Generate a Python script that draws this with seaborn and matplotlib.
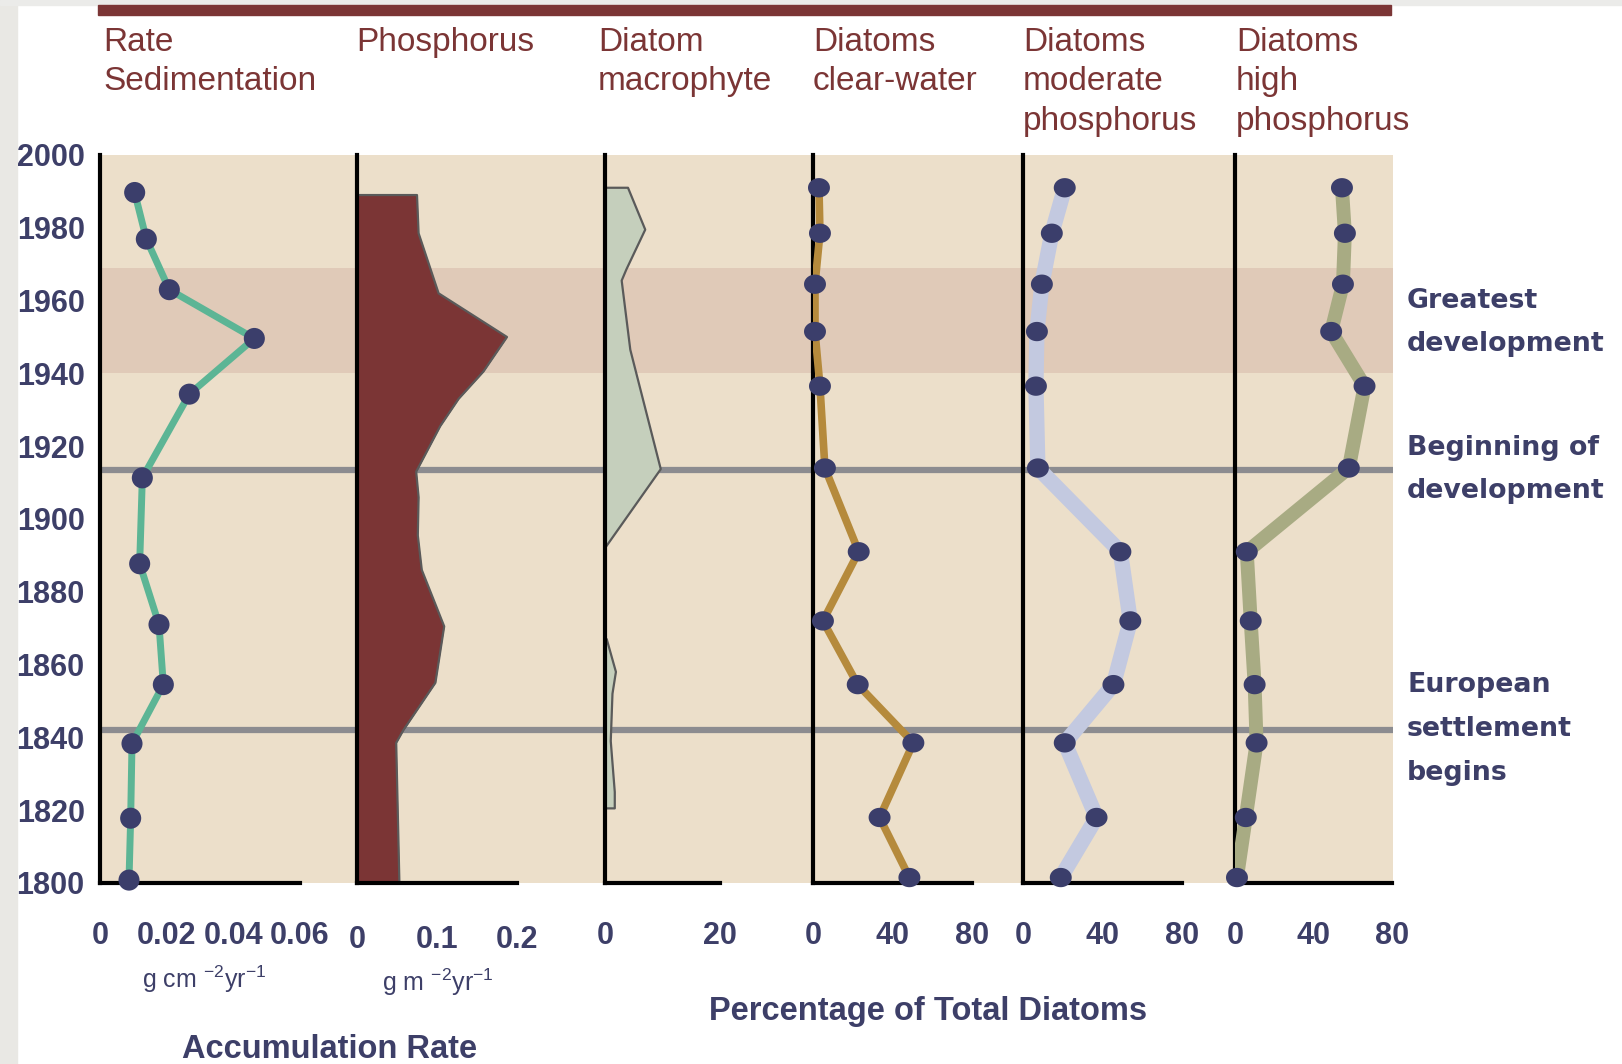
import matplotlib
matplotlib.use("Agg")
import matplotlib.pyplot as plt
from matplotlib.patches import Rectangle
from matplotlib.path import Path
import numpy as np
import seaborn as sns

# ---------------- data ----------------
sed_years = [1989.7, 1976.9, 1963.0, 1949.6, 1934.3, 1911.3,
             1887.7, 1871.0, 1854.5, 1838.3, 1817.8, 1800.8]
sed_rate = [0.0104, 0.0139, 0.0208, 0.0463, 0.0268, 0.0127,
            0.0119, 0.0177, 0.0190, 0.0096, 0.0092, 0.0087]

phos_years = [1989, 1978.5, 1962, 1950, 1940.5, 1933, 1925.5, 1913,
              1906, 1895.5, 1886, 1870.5, 1855, 1842, 1838.5, 1800]
phos_rate = [0.075, 0.077, 0.102, 0.1875, 0.158, 0.127, 0.104, 0.074,
             0.077, 0.076, 0.081, 0.109, 0.098, 0.058, 0.049, 0.053]

macro_upper_years = [1991, 1979.5, 1968.5, 1965.5, 1946.5, 1913.7, 1892]
macro_upper_pct = [4, 7, 3.7, 2.9, 4.4, 9.7, 0]
macro_lower_years = [1867, 1858, 1852, 1839, 1825, 1820.5]
macro_lower_pct = [0.3, 1.9, 1.3, 1.0, 1.7, 1.7]

diatom_years = [1991, 1978.5, 1964.5, 1951.5, 1936.5, 1914,
                1891, 1872, 1854.5, 1838.5, 1818, 1801.5]
clear_water = [3, 3.5, 1, 1, 3.5, 6, 23, 5, 22.5, 50.5, 33.5, 48.5]
moderate_p = [21, 14.5, 9.5, 7, 6.5, 7.5, 49, 54, 45.5, 21, 37, 19]
high_p = [54.5, 56, 55, 49, 66, 58, 6, 8, 10, 11, 5.5, 1]

year_ticks = list(range(1800, 2001, 20))
greatest_dev = (1940, 1969)
beginning_dev = 1913.5
settlement_begins = 1842

sed_ticks, sed_minor, sed_labels = [0, 0.02, 0.04, 0.06], [0.01, 0.03, 0.05], ["0", "0.02", "0.04", "0.06"]
phos_ticks, phos_minor, phos_labels = [0, 0.1, 0.2], [0.05, 0.15], ["0", "0.1", "0.2"]
macro_ticks, macro_minor, macro_labels = [0, 20], [10], ["0", "20"]
pct_ticks, pct_minor, pct_labels = [0, 40, 80], [20, 60], ["0", "40", "80"]

titles = [["Rate", "Sedimentation"], ["Phosphorus"], ["Diatom", "macrophyte"],
          ["Diatoms", "clear-water"], ["Diatoms", "moderate", "phosphorus"],
          ["Diatoms", "high", "phosphorus"]]
events = [["Greatest", "development"], ["Beginning of", "development"],
          ["European", "settlement", "begins"]]

# ---------------- style ----------------
sns.set_theme(style="white")
SANS = ["Liberation Sans", "DejaVu Sans"]
plt.rcParams["font.family"] = SANS
plt.rcParams["mathtext.fontset"] = "custom"
plt.rcParams["mathtext.rm"] = "Liberation Sans"
plt.rcParams["mathtext.it"] = "Liberation Sans:italic"
plt.rcParams["mathtext.bf"] = "Liberation Sans:bold"

BEIGE = "#ecdfca"
BAND = "#e0cab8"
GREY_LINE = "#8c8c90"
MAROON = "#7b3535"
NAVY = "#3d3f68"
DOT = "#3b3e6b"
SAGE = "#c5cfbc"
EDGE = "#5a5a5a"

W, H = 1622, 1064
fig = plt.figure(figsize=(W / 100, H / 100), dpi=100)
fig.patch.set_facecolor("white")


def px_rect(x0, y0, x1, y1):
    return [x0 / W, 1 - y1 / H, (x1 - x0) / W, (y1 - y0) / H]


def fx(x):
    return x / W


def fy(y):
    return 1 - y / H


# page chrome: grey margins and the maroon header rule
fig.add_artist(Rectangle((0, 0), fx(17), 1, transform=fig.transFigure,
                         color="#e9e8e4", zorder=-5))
fig.add_artist(Rectangle((0, fy(5)), 1, 5 / H, transform=fig.transFigure,
                         color="#ebebe9", zorder=-5))
fig.add_artist(Rectangle((fx(98), fy(15)), (1391 - 98) / W, 10 / H,
                         transform=fig.transFigure, color=MAROON, zorder=5))

# shared background with the development periods
TOP, BOTTOM = 155, 883
bg = fig.add_axes(px_rect(100, TOP, 1393, BOTTOM))
bg.set_facecolor(BEIGE)
bg.set_xlim(0, 1)
bg.set_ylim(1800, 2000)
bg.axhspan(*greatest_dev, color=BAND, lw=0)
bg.axhline(beginning_dev, color=GREY_LINE, lw=4.5)
bg.axhline(settlement_begins, color=GREY_LINE, lw=4.5)
bg.set_xticks([])
bg.set_yticks([])
for s in bg.spines.values():
    s.set_visible(False)

panel_specs = [
    (100, 200, 0.06, sed_ticks, sed_minor, sed_labels),
    (357, 160, 0.2, phos_ticks, phos_minor, phos_labels),
    (605, 115, 20, macro_ticks, macro_minor, macro_labels),
    (813, 159, 80, pct_ticks, pct_minor, pct_labels),
    (1023, 159, 80, pct_ticks, pct_minor, pct_labels),
    (1235, 157, 80, pct_ticks, pct_minor, pct_labels),
]

tick_font = dict(family=SANS, weight="bold", size=22, color=NAVY)

axes = []
for i, (left, width, xmax, major, minor, labels) in enumerate(panel_specs):
    ax = fig.add_axes(px_rect(left, TOP, left + width, BOTTOM))
    ax.set_facecolor("none")
    ax.set_xlim(0, xmax)
    ax.set_ylim(1800, 2000)
    for side in ("top", "right"):
        ax.spines[side].set_visible(False)
    for side in ("left", "bottom"):
        ax.spines[side].set_visible(True)
        ax.spines[side].set_color("black")
        ax.spines[side].set_linewidth(3)
    ax.set_yticks(year_ticks)
    ax.tick_params(axis="y", direction="out", length=5, width=3,
                   color="black", pad=6, labelleft=(i == 0))
    if i == 0:
        ax.set_yticklabels([str(y) for y in year_ticks], fontdict=tick_font)
    ax.set_xticks(major)
    ax.set_xticks(minor, minor=True)
    ax.set_xticklabels(labels, fontdict=tick_font)
    ax.tick_params(axis="x", which="both", direction="out", length=10,
                   width=3, color="black", pad=17 if i != 1 else 20)
    ax.set_xlabel("")
    ax.set_ylabel("")
    axes.append(ax)

# slightly flattened dot for the diatom panels
theta = np.linspace(0, 2 * np.pi, 60)
ellipse = Path(np.column_stack([np.cos(theta), 0.88 * np.sin(theta)]), closed=True)


def profile(ax, values, years, line_color, lw, marker="o", size=230):
    sns.lineplot(x=values, y=years, orient="y", ax=ax, color=line_color,
                 linewidth=lw, zorder=3, solid_joinstyle="round",
                 solid_capstyle="round")
    sns.scatterplot(x=values, y=years, ax=ax, color=DOT, s=size,
                    marker=marker, edgecolor="none", linewidth=0,
                    zorder=4, clip_on=False)
    ax.set_xlabel("")
    ax.set_ylabel("")


# sedimentation rate
profile(axes[0], sed_rate, sed_years, "#5cb595", 5)

# phosphorus accumulation (filled profile)
ax = axes[1]
ax.fill_betweenx(phos_years, 0, phos_rate, color=MAROON, lw=0, zorder=2)
ax.plot([0] + phos_rate, [phos_years[0]] + phos_years, color=EDGE, lw=1.6,
        zorder=2.2)

# macrophyte diatoms (filled profiles)
ax = axes[2]
for yrs, pct in ((macro_upper_years, macro_upper_pct),
                 (macro_lower_years, macro_lower_pct)):
    ax.fill_betweenx(yrs, 0, pct, color=SAGE, lw=0, zorder=2)
    ax.plot([0] + pct + [0], [yrs[0]] + yrs + [yrs[-1]], color=EDGE,
            lw=1.6, zorder=2.2)

profile(axes[3], clear_water, diatom_years, "#b58a3c", 5.5, ellipse, 250)
profile(axes[4], moderate_p, diatom_years, "#c3c9e0", 11, ellipse, 250)
profile(axes[5], high_p, diatom_years, "#a8ab83", 10, ellipse, 250)

# column titles
title_x = [103, 356, 598, 813, 1023, 1236]
for x, lines in zip(title_x, titles):
    for k, line in enumerate(lines):
        fig.text(fx(x), fy(51 + 39.5 * k), line, family=SANS, size=24,
                 color=MAROON, va="baseline", ha="left")

# event labels on the right
event_baselines = [[308, 351.5], [455, 498.5], [692, 736, 780]]
for lines, bases in zip(events, event_baselines):
    for line, b in zip(lines, bases):
        fig.text(fx(1407), fy(b), line, family="DejaVu Sans", weight="bold",
                 size=19.3, color=NAVY, va="baseline", ha="left")

# units and group captions
fig.text(fx(142), fy(988), r"g cm $^{-2}$yr$^{-1}$", size=18, color=NAVY,
         va="baseline", ha="left")
fig.text(fx(382), fy(991), r"g m $^{-2}$yr$^{-1}$", size=18, color=NAVY,
         va="baseline", ha="left")
fig.text(fx(330), fy(1058), "Accumulation Rate", family=SANS,
         weight="bold", size=23.5, color=NAVY, va="baseline", ha="center")
fig.text(fx(928), fy(1020), "Percentage of Total Diatoms", family=SANS,
         weight="bold", size=23.5, color=NAVY, va="baseline", ha="center")

fig.savefig("out.png", dpi=100)
